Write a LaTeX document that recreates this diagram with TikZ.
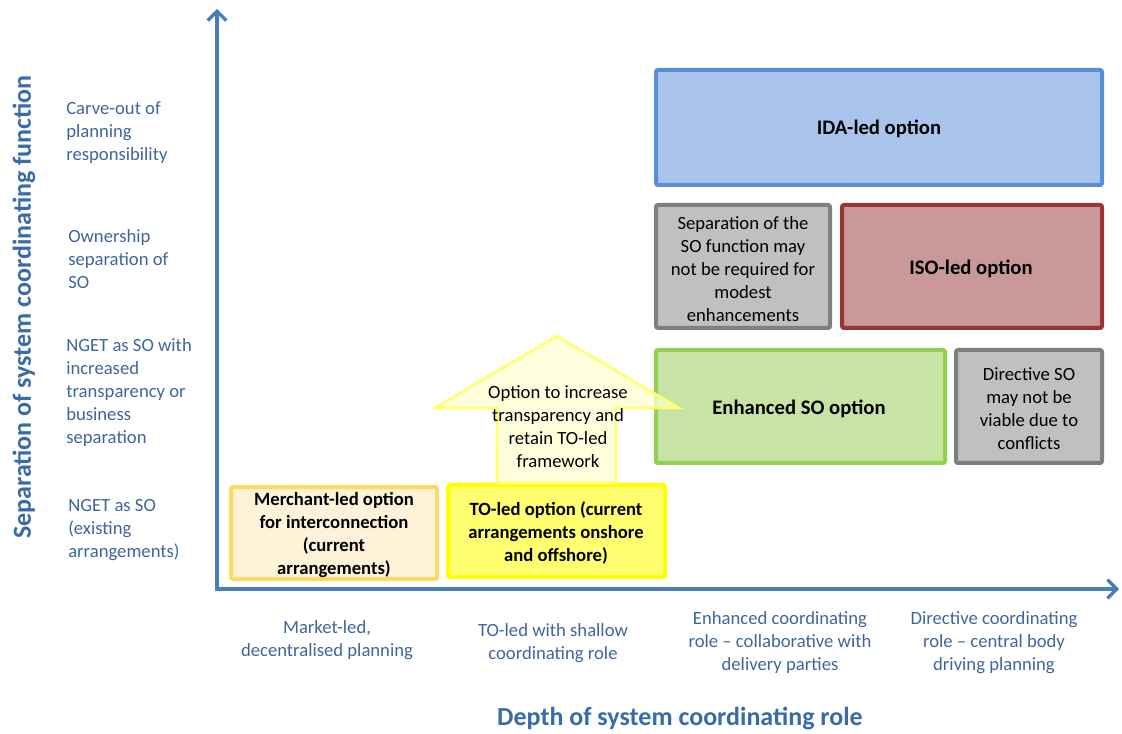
\documentclass[tikz,border=0pt]{standalone}
\usepackage{fontspec}
\setmainfont{Carlito}
\usetikzlibrary{arrows.meta}
\definecolor{axisblue}{HTML}{4A7EBB}
\definecolor{titleblue}{HTML}{376CA8}
\definecolor{lblblue}{HTML}{3F659E}
\definecolor{idafill}{HTML}{A9C5EB}
\definecolor{idaline}{HTML}{5B8FD5}
\definecolor{grayfill}{HTML}{C0C0C0}
\definecolor{grayline}{HTML}{7F7F7F}
\definecolor{isofill}{HTML}{C99898}
\definecolor{isoline}{HTML}{983434}
\definecolor{enhfill}{HTML}{C8E3A6}
\definecolor{enhline}{HTML}{92D050}
\definecolor{merfill}{HTML}{FEF3D8}
\definecolor{merline}{HTML}{FFD966}
\definecolor{tofill}{HTML}{FFFF70}
\definecolor{toline}{HTML}{FFFF00}
\definecolor{arrfill}{HTML}{FFFFD2}
\definecolor{arrline}{HTML}{FFFF70}
\begin{document}
\begin{tikzpicture}[x=0.75pt,y=-0.75pt,
  txt/.style={font=\fontsize{14}{17.25}\selectfont,yshift=-1.5pt},
  btxt/.style={font=\fontsize{14}{17.25}\selectfont\bfseries,yshift=-1.5pt},
  bigb/.style={font=\fontsize{15.5}{18}\selectfont\bfseries,yshift=-1pt},
  ylbl/.style={txt,text=lblblue,align=left,anchor=west,inner sep=0pt},
  xlbl/.style={txt,text=lblblue,align=center,inner sep=0pt},
  axtitle/.style={font=\fontsize{19.5}{22}\selectfont\bfseries,text=titleblue,inner sep=0pt},
  axis/.style={draw=axisblue,line width=3pt,-{Straight Barb[length=7pt,width=14pt,line width=2.4pt]}},
  opt/.style={line width=3pt,rounded corners=1.5pt},
]
\useasboundingbox (0,0) rectangle (1122,734);

% option boxes
\path[opt,draw=idaline,fill=idafill] (656,70) rectangle (1102,185);
\node[bigb] (ida) at (879,128) {IDA-led option};

\path[opt,draw=grayline,fill=grayfill] (656,205) rectangle (830,328);
\node[txt,align=center] (sep) at (743,267) {Separation of the\\SO function may\\not be required for\\modest\\enhancements};

\path[opt,draw=isoline,fill=isofill] (842,205) rectangle (1102,328);
\node[bigb] (iso) at (971,268) {ISO-led option};

\path[opt,draw=enhline,fill=enhfill] (656,350) rectangle (945,463);
\node[bigb] (enh) at (799,408) {Enhanced SO option};

\path[opt,draw=grayline,fill=grayfill] (956,350) rectangle (1102,463);
\node[txt,align=center] (dir) at (1029,407) {Directive SO\\may not be\\viable due to\\conflicts};

\path[opt,draw=merline,fill=merfill] (231,487) rectangle (437,579);
\node[btxt,align=center] (mer) at (334,533) {Merchant-led option\\for interconnection\\(current\\arrangements)};

\path[opt,draw=toline,fill=tofill] (448,485) rectangle (665,577);
\node[btxt,align=center] (to) at (556,531) {TO-led option (current\\arrangements onshore\\and offshore)};

% up arrow
\path[draw=arrline,line width=2pt,fill=arrfill,fill opacity=0.75]
  (497,483) -- (497,408) -- (435,408) -- (557,336) -- (679,408) -- (616,408) -- (616,483) -- cycle;
\node[txt,align=center] (opt2) at (558,425) {Option to increase\\transparency and\\retain TO-led\\framework};

% axes
\coordinate (origin) at (217,589);
\coordinate (ytip) at (217,9);
\coordinate (xtip) at (1119,589);
\draw[axis] ([yshift=-1.5pt]origin) -- (ytip);
\draw[axis] ([xshift=-1.5pt]origin) -- (xtip);

% axis titles
\node[axtitle,rotate=90] (ytitle) at (24,307) {Separation of system coordinating function};
\node[axtitle] (xtitle) at (680,719) {Depth of system coordinating role};

% y labels
\node[ylbl] (y4) at (66,131) {Carve-out of\\planning\\responsibility};
\node[ylbl] (y3) at (68,257) {Ownership\\separation of\\SO};
\node[ylbl] (y2) at (66,391) {NGET as SO with\\increased\\transparency or\\business\\separation};
\node[ylbl] (y1) at (68,528) {NGET as SO\\(existing\\arrangements)};

% x labels
\node[xlbl] (x1) at (327,638) {Market-led,\\decentralised planning};
\node[xlbl] (x2) at (553,641) {TO-led with shallow\\coordinating role};
\node[xlbl] (x3) at (780,641) {Enhanced coordinating\\role -- collaborative with\\delivery parties};
\node[xlbl] (x4) at (994,641) {Directive coordinating\\role -- central body\\driving planning};
\end{tikzpicture}
\end{document}
